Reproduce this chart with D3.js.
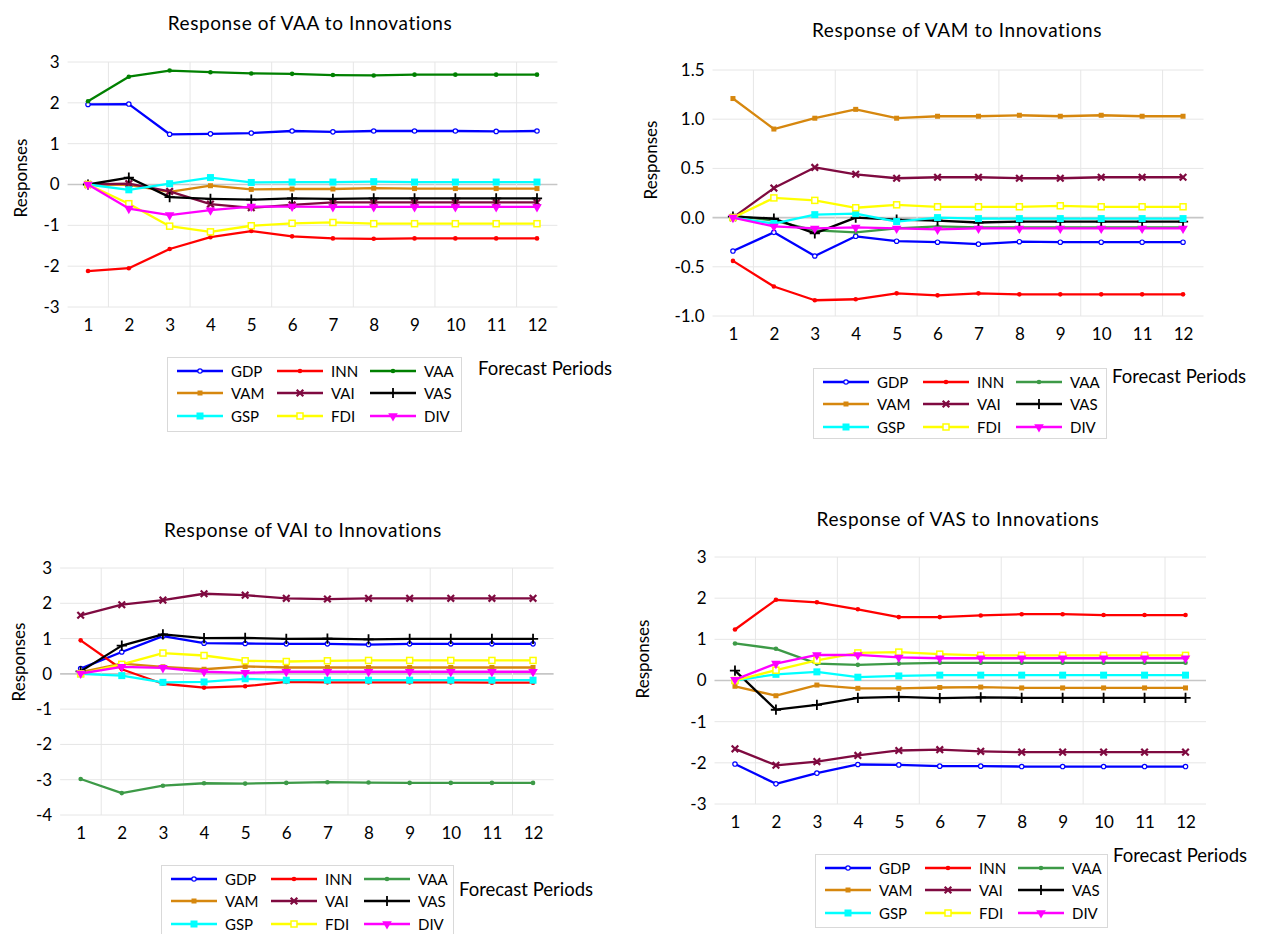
<!DOCTYPE html>
<html>
<head>
<meta charset="utf-8">
<script src="https://cdn.jsdelivr.net/npm/d3@7"></script>
<style>
  body { margin: 0; background: #fff; }
  text { font-family: Lato, "Open Sans", sans-serif; fill: #000; }
</style>
</head>
<body>
<div id="chart"></div>
<script>
var svgWidth = 1267;
var svgHeight = 934;

// categories and series
var periods = [1, 2, 3, 4, 5, 6, 7, 8, 9, 10, 11, 12];
var seriesNames = ["GDP", "INN", "VAA", "VAM", "VAI", "VAS", "GSP", "FDI", "DIV"];
var seriesColors = ["#0000ff", "#ff0000", "#3d9a47", "#d6870e", "#7f0a40", "#000000", "#00ffff", "#ffff00", "#ff00ff"];
var seriesMarkers = ["ring", "dot", "dot", "smallsquare", "times", "plus", "square", "opensquare", "triangle"];

// Response of VAA (rows in seriesNames order)
var respVAA = [
  [1.96, 1.97, 1.23, 1.24, 1.26, 1.31, 1.29, 1.31, 1.31, 1.31, 1.30, 1.31],
  [-2.12, -2.05, -1.58, -1.29, -1.14, -1.27, -1.32, -1.33, -1.32, -1.32, -1.32, -1.32],
  [2.04, 2.64, 2.79, 2.75, 2.72, 2.71, 2.68, 2.67, 2.69, 2.69, 2.69, 2.69],
  [0, -0.01, -0.18, -0.03, -0.12, -0.11, -0.11, -0.09, -0.10, -0.10, -0.10, -0.10],
  [0, 0.02, -0.17, -0.48, -0.57, -0.50, -0.44, -0.44, -0.44, -0.44, -0.44, -0.44],
  [0, 0.17, -0.31, -0.35, -0.37, -0.34, -0.35, -0.34, -0.34, -0.34, -0.34, -0.34],
  [0, -0.13, 0.02, 0.17, 0.05, 0.06, 0.06, 0.07, 0.06, 0.06, 0.06, 0.06],
  [0, -0.47, -1.02, -1.16, -1.01, -0.95, -0.93, -0.96, -0.96, -0.96, -0.96, -0.96],
  [0, -0.59, -0.75, -0.63, -0.54, -0.54, -0.55, -0.55, -0.55, -0.55, -0.55, -0.55]
];

// Response of VAM
var respVAM = [
  [-0.34, -0.15, -0.39, -0.19, -0.24, -0.25, -0.27, -0.245, -0.25, -0.25, -0.25, -0.25],
  [-0.44, -0.70, -0.84, -0.83, -0.77, -0.79, -0.77, -0.78, -0.78, -0.78, -0.78, -0.78],
  [0.02, -0.03, -0.13, -0.15, -0.11, -0.09, -0.10, -0.10, -0.10, -0.10, -0.10, -0.10],
  [1.21, 0.90, 1.01, 1.10, 1.01, 1.03, 1.03, 1.04, 1.03, 1.04, 1.03, 1.03],
  [0, 0.30, 0.51, 0.44, 0.40, 0.41, 0.41, 0.40, 0.40, 0.41, 0.41, 0.41],
  [0.01, -0.01, -0.16, 0.00, -0.02, -0.03, -0.05, -0.04, -0.04, -0.04, -0.04, -0.04],
  [0, -0.06, 0.03, 0.04, -0.04, 0.00, -0.01, -0.01, -0.01, -0.01, -0.01, -0.01],
  [0, 0.20, 0.175, 0.10, 0.13, 0.11, 0.11, 0.11, 0.12, 0.11, 0.11, 0.11],
  [0, -0.09, -0.11, -0.10, -0.11, -0.12, -0.11, -0.11, -0.11, -0.11, -0.11, -0.11]
];

// Response of VAI
var respVAI = [
  [0.15, 0.62, 1.07, 0.87, 0.86, 0.85, 0.85, 0.83, 0.85, 0.85, 0.85, 0.85],
  [0.95, 0.13, -0.28, -0.39, -0.35, -0.23, -0.24, -0.24, -0.24, -0.24, -0.25, -0.25],
  [-2.98, -3.38, -3.17, -3.10, -3.11, -3.09, -3.07, -3.08, -3.09, -3.09, -3.09, -3.09],
  [0.05, 0.29, 0.20, 0.13, 0.21, 0.18, 0.18, 0.18, 0.18, 0.18, 0.18, 0.18],
  [1.66, 1.96, 2.09, 2.27, 2.23, 2.14, 2.12, 2.14, 2.14, 2.14, 2.14, 2.14],
  [0.07, 0.80, 1.12, 1.01, 1.02, 0.99, 1.00, 0.98, 0.99, 0.99, 0.99, 0.99],
  [0, -0.05, -0.24, -0.23, -0.14, -0.18, -0.18, -0.18, -0.18, -0.18, -0.18, -0.18],
  [0, 0.27, 0.59, 0.52, 0.37, 0.35, 0.37, 0.38, 0.38, 0.38, 0.38, 0.38],
  [0.01, 0.20, 0.17, 0.06, 0.03, 0.06, 0.06, 0.06, 0.06, 0.06, 0.06, 0.06]
];

// Response of VAS
var respVAS = [
  [-2.03, -2.51, -2.25, -2.04, -2.05, -2.08, -2.08, -2.09, -2.09, -2.09, -2.09, -2.09],
  [1.24, 1.96, 1.90, 1.73, 1.54, 1.54, 1.58, 1.61, 1.61, 1.59, 1.59, 1.59],
  [0.90, 0.77, 0.41, 0.38, 0.41, 0.43, 0.43, 0.43, 0.43, 0.43, 0.43, 0.43],
  [-0.14, -0.37, -0.11, -0.19, -0.19, -0.17, -0.16, -0.18, -0.18, -0.18, -0.18, -0.18],
  [-1.66, -2.06, -1.97, -1.82, -1.70, -1.68, -1.72, -1.74, -1.74, -1.74, -1.74, -1.74],
  [0.24, -0.71, -0.59, -0.42, -0.40, -0.43, -0.41, -0.42, -0.42, -0.42, -0.42, -0.42],
  [0, 0.15, 0.21, 0.08, 0.11, 0.13, 0.13, 0.13, 0.13, 0.13, 0.13, 0.13],
  [0, 0.25, 0.49, 0.67, 0.69, 0.64, 0.61, 0.61, 0.61, 0.61, 0.61, 0.61],
  [0.02, 0.41, 0.62, 0.62, 0.56, 0.54, 0.54, 0.54, 0.54, 0.54, 0.54, 0.54]
];

// y tick labels per panel
var ticksVAA = [-3, -2, -1, 0, 1, 2, 3];
var ticksVAM = [-1.0, -0.5, 0.0, 0.5, 1.0, 1.5];
var ticksVAI = [-4, -3, -2, -1, 0, 1, 2, 3];
var ticksVAS = [-3, -2, -1, 0, 1, 2, 3];
var gridX = [1.5, 3.5, 5.5, 7.5, 9.5, 11.5];

// layout of the four panels
var panels = [
  { title: "Response of VAA to Innovations", data: respVAA, ticks: ticksVAA, digits: 0,
    left: 67.6, right: 557.4, top: 62, bottom: 307, titleX: 310, titleY: 22,
    yLabel: [20, 178], legend: [167, 357, 294, 74], fp: [478, 368], vaaColor: "#008000" },
  { title: "Response of VAM to Innovations", data: respVAM, ticks: ticksVAM, digits: 1,
    left: 712.5, right: 1203.5, top: 70, bottom: 316, titleX: 957, titleY: 29,
    yLabel: [650, 160], legend: [813, 368, 293, 70], fp: [1112, 376] },
  { title: "Response of VAI to Innovations", data: respVAI, ticks: ticksVAI, digits: 0,
    left: 60.1, right: 553.6, top: 568, bottom: 815, titleX: 303, titleY: 529,
    yLabel: [18, 662], legend: [161, 865, 292, 75], fp: [459, 889] },
  { title: "Response of VAS to Innovations", data: respVAS, ticks: ticksVAS, digits: 0,
    left: 714.5, right: 1206, top: 557, bottom: 804, titleX: 958, titleY: 518,
    yLabel: [642, 659], legend: [815, 854, 292, 73], fp: [1113, 855] }
];

var svg = d3.select("#chart")
  .append("svg")
  .attr("width", svgWidth)
  .attr("height", svgHeight);

function drawMarker(g, kind, color, cx, cy) {
  if (kind === "ring") {
    g.append("circle").attr("cx", cx).attr("cy", cy).attr("r", 2.2)
      .attr("fill", "#fff").attr("stroke", color).attr("stroke-width", 1.2);
  } else if (kind === "dot") {
    g.append("circle").attr("cx", cx).attr("cy", cy).attr("r", 2.3).attr("fill", color);
  } else if (kind === "smallsquare") {
    g.append("rect").attr("x", cx - 2.5).attr("y", cy - 2.5)
      .attr("width", 5).attr("height", 5).attr("fill", color);
  } else if (kind === "square") {
    g.append("rect").attr("x", cx - 3.5).attr("y", cy - 3.5)
      .attr("width", 7).attr("height", 7).attr("fill", color);
  } else if (kind === "opensquare") {
    g.append("rect").attr("x", cx - 3).attr("y", cy - 3)
      .attr("width", 6).attr("height", 6)
      .attr("fill", "#fff").attr("stroke", color).attr("stroke-width", 1.5);
  } else if (kind === "times") {
    g.append("path").attr("transform", `translate(${cx},${cy})`)
      .attr("d", d3.symbol(d3.symbolTimes, 30)())
      .attr("fill", "none").attr("stroke", color).attr("stroke-width", 2.2);
  } else if (kind === "plus") {
    g.append("path").attr("transform", `translate(${cx},${cy})`)
      .attr("d", d3.symbol(d3.symbolPlus, 36)())
      .attr("fill", "none").attr("stroke", color).attr("stroke-width", 1.8);
  } else if (kind === "triangle") {
    g.append("path").attr("transform", `translate(${cx},${cy}) rotate(180)`)
      .attr("d", d3.symbol(d3.symbolTriangle, 40)())
      .attr("fill", color);
  }
}

panels.forEach(function (p) {
  var g = svg.append("g");

  var xScale = d3.scaleLinear().domain([0.5, 12.5]).range([p.left, p.right]);
  var yScale = d3.scaleLinear()
    .domain([d3.min(p.ticks), d3.max(p.ticks)])
    .range([p.bottom, p.top]);

  var colors = seriesColors.slice();
  if (p.vaaColor) colors[2] = p.vaaColor;

  // title
  g.append("text")
    .attr("x", p.titleX).attr("y", p.titleY)
    .attr("text-anchor", "middle").attr("dominant-baseline", "central")
    .style("font-size", "19px")
    .style("letter-spacing", "0.6px")
    .text(p.title);

  // gridlines
  g.selectAll(".hgrid").data(p.ticks).enter()
    .append("line")
    .attr("x1", p.left).attr("x2", p.right)
    .attr("y1", d => yScale(d)).attr("y2", d => yScale(d))
    .attr("stroke", d => d === 0 ? "#c6c6c6" : "#e6e6e6")
    .attr("stroke-width", d => d === 0 ? 1.6 : 1);

  g.selectAll(".vgrid").data(gridX).enter()
    .append("line")
    .attr("x1", d => xScale(d)).attr("x2", d => xScale(d))
    .attr("y1", p.top).attr("y2", p.bottom)
    .attr("stroke", "#e6e6e6").attr("stroke-width", 1);

  // axes
  var yAxis = d3.axisLeft(yScale)
    .tickValues(p.ticks).tickSize(0).tickPadding(8)
    .tickFormat(d => d.toFixed(p.digits));
  var ya = g.append("g").attr("transform", `translate(${p.left},0)`).call(yAxis);
  ya.select(".domain").remove();
  ya.selectAll("text").style("font-size", "17px").attr("fill", "#000");

  var xAxis = d3.axisBottom(xScale).tickValues(periods).tickSize(0).tickPadding(12)
    .tickFormat(d => String(d));
  var xa = g.append("g").attr("transform", `translate(0,${p.bottom})`).call(xAxis);
  xa.select(".domain").remove();
  xa.selectAll("text").style("font-size", "17px").attr("fill", "#000");

  // y axis label
  g.append("text")
    .attr("transform", `translate(${p.yLabel[0]},${p.yLabel[1]}) rotate(-90)`)
    .attr("text-anchor", "middle").attr("dominant-baseline", "central")
    .style("font-size", "17px")
    .text("Responses");

  // series
  var line = d3.line()
    .x((d, i) => xScale(periods[i]))
    .y(d => yScale(d));

  p.data.forEach(function (vals, si) {
    var sg = g.append("g");
    sg.append("path")
      .attr("d", line(vals))
      .attr("fill", "none")
      .attr("stroke", colors[si])
      .attr("stroke-width", 2.3)
      .attr("stroke-linejoin", "round");
    vals.forEach(function (v, i) {
      drawMarker(sg, seriesMarkers[si], colors[si], xScale(periods[i]), yScale(v));
    });
  });

  // legend
  var lb = p.legend;
  var lg = g.append("g").attr("transform", `translate(${lb[0]},${lb[1]})`);
  lg.append("rect")
    .attr("x", 0.5).attr("y", 0.5).attr("width", lb[2]).attr("height", lb[3])
    .attr("fill", "#fff").attr("stroke", "#d9d9d9");
  var colX = [10, 110, 203];
  var rowY = [14, 36, 59];
  seriesNames.forEach(function (name, si) {
    var cx = colX[si % 3], cy = rowY[Math.floor(si / 3)];
    lg.append("line")
      .attr("x1", cx).attr("x2", cx + 46).attr("y1", cy).attr("y2", cy)
      .attr("stroke", colors[si]).attr("stroke-width", 2.3);
    drawMarker(lg, seriesMarkers[si], colors[si], cx + 23, cy);
    lg.append("text")
      .attr("x", cx + 54).attr("y", cy)
      .attr("dominant-baseline", "central")
      .style("font-size", "15px")
      .text(name);
  });

  g.append("text")
    .attr("x", p.fp[0]).attr("y", p.fp[1])
    .attr("dominant-baseline", "central")
    .style("font-size", "18.5px")
    .text("Forecast Periods");
});
</script>
</body>
</html>
